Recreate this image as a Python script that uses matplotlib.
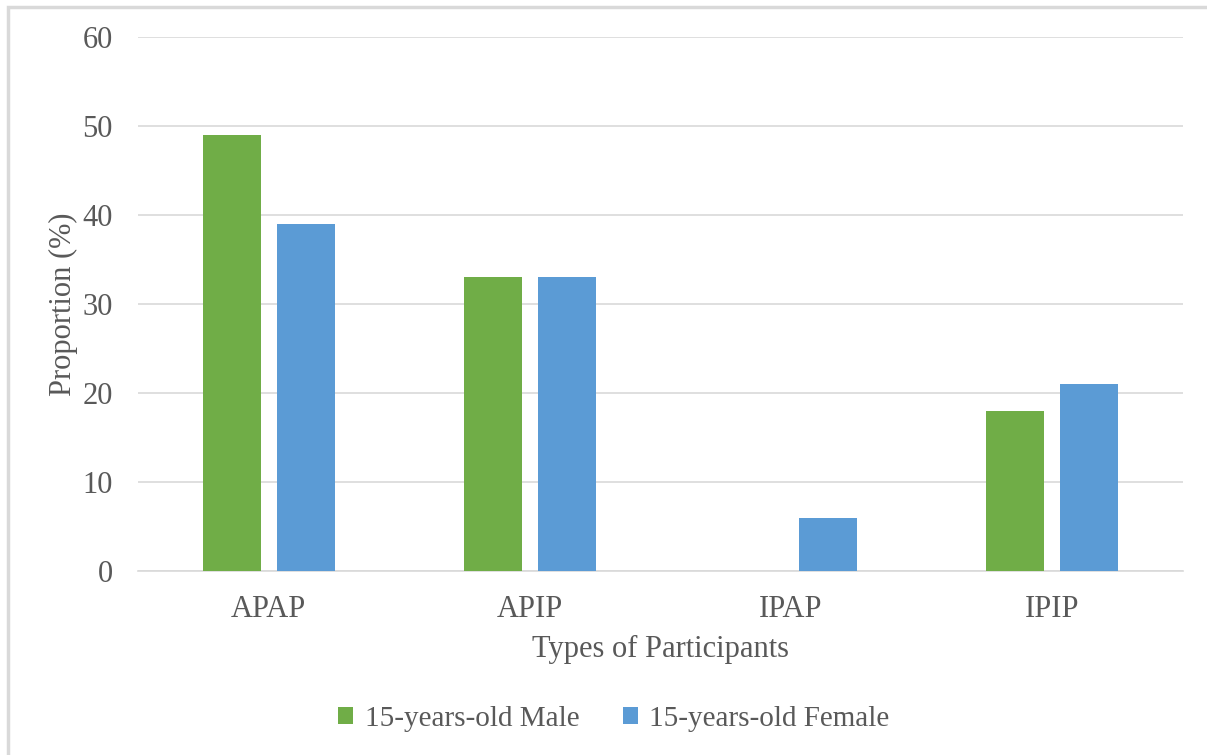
import matplotlib
matplotlib.use('Agg')
import matplotlib.pyplot as plt
import matplotlib.patches as mpatches
import numpy as np

# data
categories = ['APAP', 'APIP', 'IPAP', 'IPIP']
male = [49, 33, 0, 18]
female = [39, 33, 6, 21]
series_labels = ['15-years-old Male', '15-years-old Female']

GREEN = '#70AD47'
BLUE = '#5B9BD5'
TEXT = '#595959'
GRID = '#d9d9d9'

plt.rcParams['font.family'] = ['Liberation Serif', 'DejaVu Serif']

fig = plt.figure(figsize=(12.07, 7.55), dpi=100)
ax = fig.add_axes([138 / 1207, 1 - 571 / 755, (1183 - 138) / 1207, (571 - 37) / 755])

# outer chart frame
frame = mpatches.Rectangle((8 / 1207, -0.01), 1.2, 1 - 7 / 755 + 0.01,
                           transform=fig.transFigure, fill=False,
                           edgecolor=GRID, lw=2.5, zorder=0)
fig.patches.append(frame)

x = np.arange(len(categories))
w = 0.222
off = 0.1416
ax.bar(x - off, male, width=w, color=GREEN, label=series_labels[0], zorder=3)
ax.bar(x + off, female, width=w, color=BLUE, label=series_labels[1], zorder=3)

ax.set_xlim(-0.5, len(categories) - 0.5)
ax.set_ylim(0, 60)
ax.set_yticks(range(0, 61, 10))
ax.set_xticks(x)
ax.set_xticklabels(categories)
ax.grid(axis='y', color=GRID, lw=1.2, zorder=0)
ax.set_axisbelow(True)
for s in ['top', 'right', 'left']:
    ax.spines[s].set_visible(False)
ax.spines['bottom'].set_color(GRID)
ax.spines['bottom'].set_linewidth(1.2)
ax.tick_params(axis='both', length=0, labelsize=22, colors=TEXT)
ax.tick_params(axis='y', pad=18)
ax.tick_params(axis='x', pad=17)

ax.set_ylabel('Proportion (%)', fontsize=22, color=TEXT, labelpad=3)
ax.set_xlabel('Types of Participants', fontsize=22, color=TEXT, labelpad=8)

leg = fig.legend(loc='center', bbox_to_anchor=(614 / 1207, 1 - 719 / 755), ncol=2,
                 frameon=False, fontsize=21, handlelength=0.5, handleheight=0.5,
                 handletextpad=0.4, columnspacing=1.5)
for t in leg.get_texts():
    t.set_color(TEXT)

fig.savefig('out.png', dpi=100)
